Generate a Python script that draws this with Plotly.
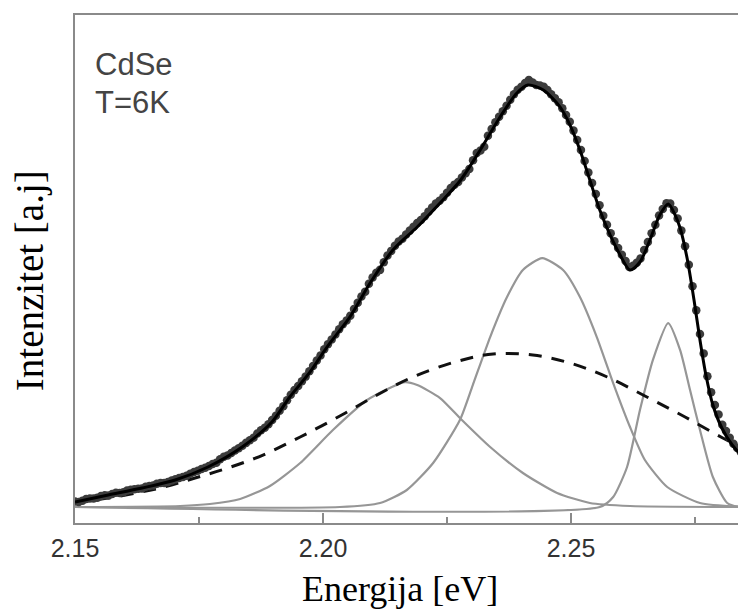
import plotly.graph_objects as go

# ---- data (energy in eV, intensity in arbitrary units) ----
data_E = [2.1500, 2.1515, 2.1530, 2.1545, 2.1560, 2.1575, 2.1590, 2.1605, 2.1620, 2.1635,
          2.1650, 2.1665, 2.1680, 2.1695, 2.1710, 2.1725, 2.1740, 2.1755, 2.1770, 2.1785,
          2.1800, 2.1815, 2.1830, 2.1845, 2.1860, 2.1875, 2.1890, 2.1905, 2.1920, 2.1935,
          2.1950, 2.1965, 2.1980, 2.1995, 2.2010, 2.2025, 2.2040, 2.2055, 2.2070, 2.2085,
          2.2100, 2.2115, 2.2130, 2.2145, 2.2160, 2.2175, 2.2190, 2.2205, 2.2220, 2.2235,
          2.2250, 2.2265, 2.2280, 2.2295, 2.2310, 2.2325, 2.2340, 2.2355, 2.2370, 2.2385,
          2.2400, 2.2415, 2.2430, 2.2445, 2.2460, 2.2475, 2.2490, 2.2505, 2.2520, 2.2535,
          2.2550, 2.2565, 2.2580, 2.2595, 2.2610, 2.2625, 2.2640, 2.2655, 2.2670, 2.2685,
          2.2700, 2.2715, 2.2730, 2.2745, 2.2760, 2.2775, 2.2790, 2.2805, 2.2820, 2.2835,
          2.2850]
data_I = [1.3, 1.5, 2.0, 2.2, 2.8, 3.1, 3.3, 3.9, 4.2, 4.4,
          5.0, 5.5, 5.7, 6.3, 6.9, 7.4, 8.3, 9.0, 9.7, 10.5,
          11.9, 12.8, 13.9, 15.2, 16.4, 18.2, 19.6, 21.6, 23.9, 26.6,
          28.7, 30.9, 33.4, 35.9, 38.6, 40.9, 43.3, 45.3, 48.4, 51.0,
          54.4, 56.2, 59.6, 61.9, 63.6, 65.5, 67.3, 68.9, 71.0, 72.6,
          74.5, 76.4, 78.1, 80.1, 83.9, 85.4, 89.6, 92.5, 95.1, 97.8,
          99.6, 101.2, 100.0, 99.6, 97.8, 95.9, 92.9, 89.2, 84.6, 79.3,
          74.2, 69.0, 64.9, 61.4, 58.3, 57.2, 58.9, 62.8, 66.9, 70.6,
          71.9, 68.4, 61.8, 52.3, 41.0, 31.0, 24.2, 19.5, 16.4, 14.0,
          11.8]
# the measured points lying between the ones above
data_E_mid = [2.15075, 2.15225, 2.15375, 2.15525, 2.15675, 2.15825, 2.15975, 2.16125, 2.16275, 2.16425,
              2.16575, 2.16725, 2.16875, 2.17025, 2.17175, 2.17325, 2.17475, 2.17625, 2.17775, 2.17925,
              2.18075, 2.18225, 2.18375, 2.18525, 2.18675, 2.18825, 2.18975, 2.19125, 2.19275, 2.19425,
              2.19575, 2.19725, 2.19875, 2.20025, 2.20175, 2.20325, 2.20475, 2.20625, 2.20775, 2.20925,
              2.21075, 2.21225, 2.21375, 2.21525, 2.21675, 2.21825, 2.21975, 2.22125, 2.22275, 2.22425,
              2.22575, 2.22725, 2.22875, 2.23025, 2.23175, 2.23325, 2.23475, 2.23625, 2.23775, 2.23925,
              2.24075, 2.24225, 2.24375, 2.24525, 2.24675, 2.24825, 2.24975, 2.25125, 2.25275, 2.25425,
              2.25575, 2.25725, 2.25875, 2.26025, 2.26175, 2.26325, 2.26475, 2.26625, 2.26775, 2.26925,
              2.27075, 2.27225, 2.27375, 2.27525, 2.27675, 2.27825, 2.27975, 2.28125, 2.28275, 2.28425]
data_I_mid = [1.2, 1.9, 2.0, 2.6, 2.7, 3.4, 3.5, 4.1, 4.3, 4.8,
              5.1, 5.7, 5.9, 6.6, 7.1, 7.9, 8.6, 9.3, 10.2, 11.3,
              12.2, 13.4, 14.5, 15.8, 17.4, 18.8, 20.6, 22.8, 25.3, 27.7,
              29.8, 32.2, 34.7, 37.4, 39.7, 42.1, 44.2, 46.9, 49.9, 52.9,
              55.5, 58.0, 60.7, 62.9, 64.6, 66.4, 68.0, 70.0, 71.9, 73.4,
              75.6, 77.0, 79.1, 82.2, 84.5, 88.0, 91.2, 93.8, 96.5, 98.9,
              100.5, 100.6, 99.9, 98.8, 96.9, 94.5, 91.3, 87.0, 82.0, 76.8,
              71.5, 66.9, 63.0, 59.8, 56.9, 57.9, 60.9, 64.9, 69.1, 72.0,
              70.4, 65.5, 57.4, 46.6, 36.4, 27.2, 21.9, 18.0, 15.0, 13.0]

fit_E = [2.1500, 2.1567, 2.1635, 2.1702, 2.1768, 2.1837, 2.1897, 2.1933, 2.1974, 2.2008,
         2.2054, 2.2095, 2.2141, 2.2190, 2.2236, 2.2276, 2.2317, 2.2357, 2.2391, 2.2413,
         2.2444, 2.2478, 2.2498, 2.2518, 2.2538, 2.2558, 2.2579, 2.2599, 2.2619, 2.2639,
         2.2659, 2.2679, 2.2696, 2.2710, 2.2720, 2.2734, 2.2748, 2.2760, 2.2772, 2.2786,
         2.2804, 2.2825, 2.2853]
fit_I = [1.18, 2.84, 4.50, 6.40, 9.48, 14.22, 20.14, 26.07, 32.0, 37.91,
         45.02, 53.08, 60.90, 66.35, 72.04, 77.25, 84.60, 92.42, 98.10, 100.0,
         98.82, 94.79, 90.52, 84.60, 77.49, 70.38, 64.45, 59.72, 56.16, 58.06,
         63.27, 69.19, 71.80, 69.19, 66.11, 59.00, 49.05, 39.57, 31.28, 24.17,
         18.72, 14.69, 11.14]

peak1_E = [2.1500, 2.1712, 2.1772, 2.1833, 2.1893, 2.1954, 2.2020, 2.2089, 2.2165, 2.2190,
           2.2236, 2.2280, 2.2337, 2.2403, 2.2472, 2.2538, 2.2619, 2.2853]
peak1_I = [0.0, 0.24, 0.71, 1.90, 4.98, 10.43, 18.25, 25.36, 29.6, 28.91,
           25.83, 20.62, 14.22, 8.06, 3.32, 0.95, 0.24, 0.0]

peak2_E = [2.1500, 2.2034, 2.2115, 2.2169, 2.2222, 2.2276, 2.2302, 2.2337, 2.2371, 2.2403,
           2.2442, 2.2484, 2.2518, 2.2552, 2.2585, 2.2619, 2.2649, 2.2694, 2.2760, 2.2853]
peak2_I = [0.0, 0.0, 0.95, 4.03, 10.43, 20.62, 28.91, 40.28, 49.76, 56.16,
           59.00, 56.16, 49.76, 40.28, 29.38, 18.96, 11.14, 4.74, 0.95, 0.0]

peak3_E = [2.1500, 2.2558, 2.2585, 2.2613, 2.2639, 2.2665, 2.2696, 2.2720, 2.2740, 2.2760,
           2.2786, 2.2815, 2.2841, 2.2853]
peak3_I = [0.0, 0.0, 2.37, 9.48, 22.99, 34.83, 43.60, 37.20, 27.73, 18.25,
           7.11, 0.95, 0.0, 0.0]

broad_E = [2.1500, 2.1591, 2.1671, 2.1742, 2.1808, 2.1879, 2.1954, 2.2034, 2.2109, 2.2181,
           2.2266, 2.2343, 2.2423, 2.2498, 2.2573, 2.2653, 2.2730, 2.2806, 2.2853]
broad_I = [0.95, 2.61, 4.50, 6.87, 9.24, 12.32, 16.59, 21.56, 26.54, 30.81,
           34.36, 36.26, 36.02, 34.12, 30.81, 26.07, 21.33, 16.35, 13.51]

x_ticks = [2.15, 2.20, 2.25]
x_ticklabels = ["2.15", "2.20", "2.25"]

GRAY = "#969696"
AXIS = "#8a8a8a"

fig = go.Figure()
for ex, iy in [(peak1_E, peak1_I), (peak2_E, peak2_I), (peak3_E, peak3_I)]:
    fig.add_trace(go.Scatter(x=ex, y=iy, mode="lines",
                             line=dict(color=GRAY, width=2.2, shape="spline", smoothing=0.6),
                             showlegend=False, hoverinfo="skip"))
fig.add_trace(go.Scatter(x=broad_E, y=broad_I, mode="lines",
                         line=dict(color="#111111", width=3, dash="13px,10px", shape="spline"),
                         showlegend=False))
fig.add_trace(go.Scatter(x=data_E + data_E_mid, y=data_I + data_I_mid, mode="markers",
                         marker=dict(color="#3c3c3c", size=8.5, line=dict(width=0)),
                         showlegend=False))
fig.add_trace(go.Scatter(x=fit_E, y=fit_I, mode="lines",
                         line=dict(color="#000000", width=3, shape="spline", smoothing=0.8),
                         showlegend=False))

# the page body adds an 8px margin, so the figure is sized to fit the window from there
fig.update_layout(
    width=738, height=604,
    margin=dict(l=67, r=0, t=7, b=89),
    paper_bgcolor="white", plot_bgcolor="white",
    showlegend=False,
    xaxis=dict(range=[2.15, 2.28528], showline=True, linecolor=AXIS, linewidth=2,
               mirror=True, showgrid=False, zeroline=False,
               ticks="inside", ticklen=10, tickwidth=2, tickcolor=AXIS,
               tickmode="array", tickvals=x_ticks, ticktext=x_ticklabels,
               ticklabelstandoff=2,
               minor=dict(ticks="inside", ticklen=6, tickwidth=2, tickcolor=AXIS, dtick=0.025, tick0=2.15),
               tickfont=dict(family="Liberation Sans, Arial", size=25, color="#333333")),
    yaxis=dict(range=[-3.79, 116.6], showline=True, linecolor=AXIS, linewidth=2,
               mirror=False, showgrid=False, zeroline=False, ticks="", showticklabels=False),
    annotations=[
        dict(text="Energija [eV]", xref="paper", yref="paper", x=0.4844, y=-0.130,
             xanchor="center", yanchor="middle", showarrow=False,
             font=dict(family="Liberation Serif, Times New Roman", size=36, color="#000")),
        dict(text="Intenzitet [a.j]", xref="paper", yref="paper", x=-0.0671, y=0.478,
             xanchor="center", yanchor="middle", showarrow=False, textangle=-90,
             font=dict(family="Liberation Serif, Times New Roman", size=39, color="#000")),
        dict(text="CdSe", xref="paper", yref="paper", x=0.027, y=0.9035,
             xanchor="left", yanchor="middle", showarrow=False,
             font=dict(family="Liberation Sans, Arial", size=31, color="#444444")),
        dict(text="T=6K", xref="paper", yref="paper", x=0.027, y=0.8268,
             xanchor="left", yanchor="middle", showarrow=False,
             font=dict(family="Liberation Sans, Arial", size=31, color="#444444")),
    ],
)

fig.write_html("out.html")
